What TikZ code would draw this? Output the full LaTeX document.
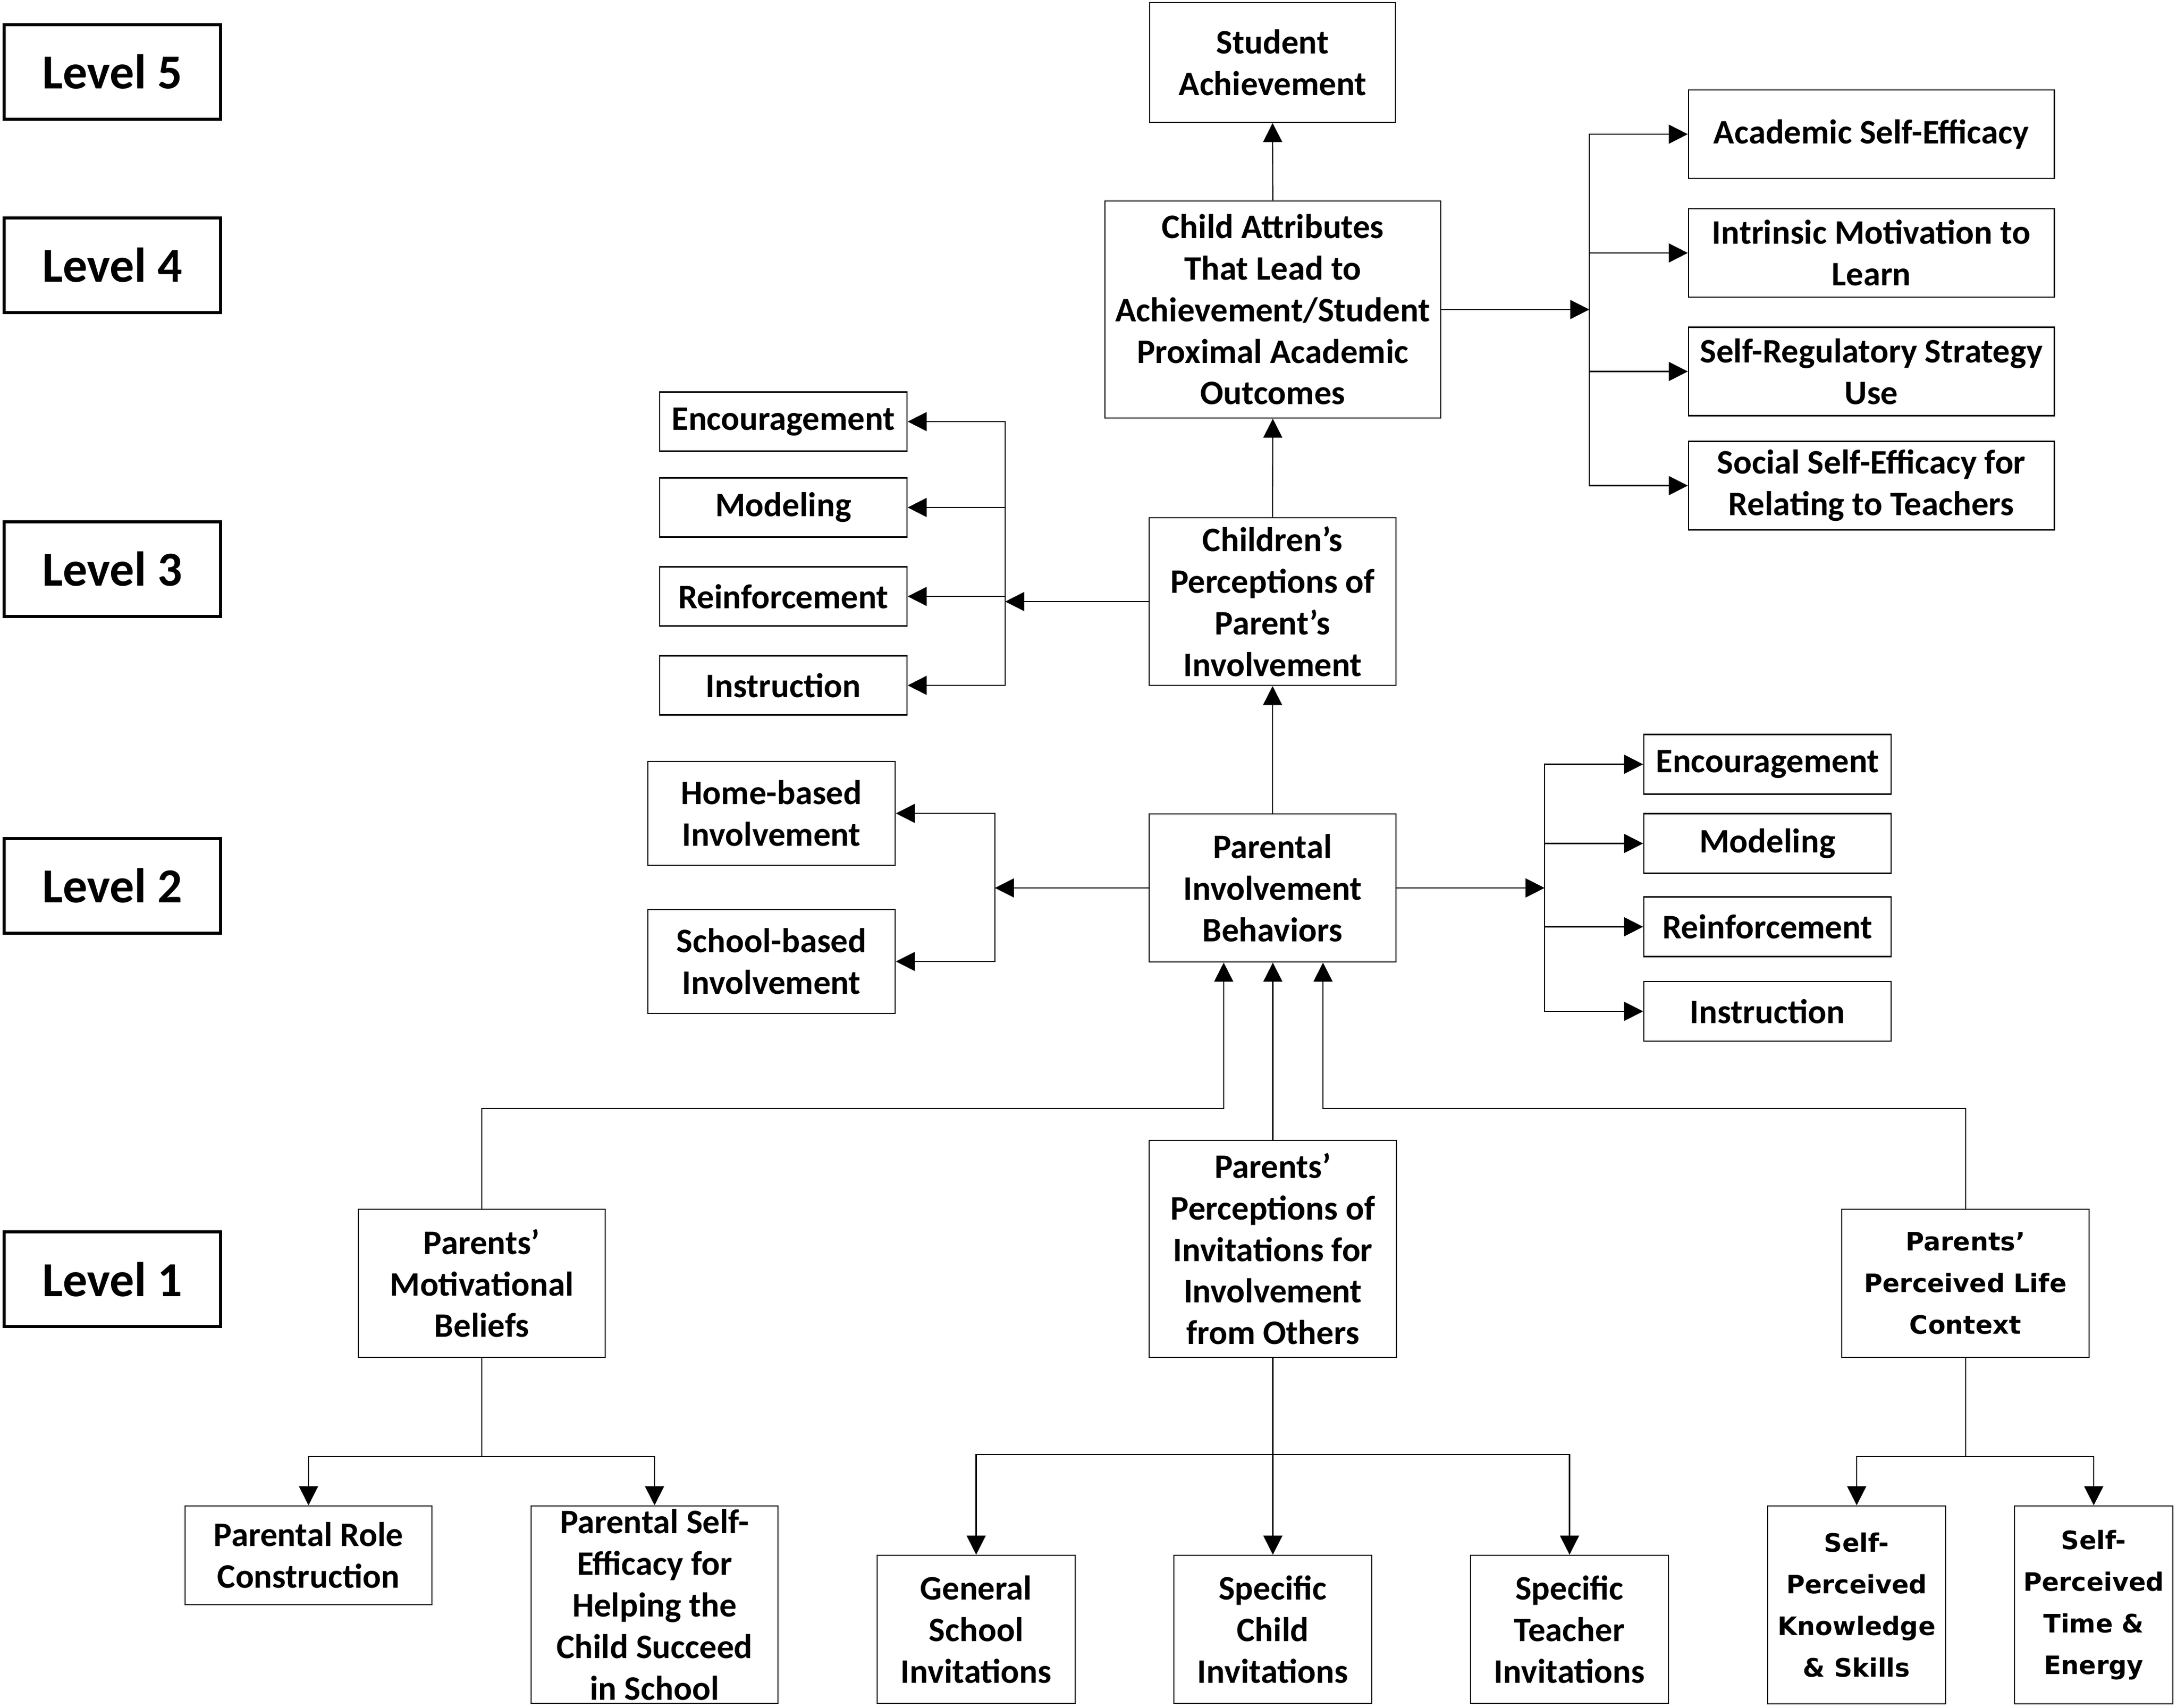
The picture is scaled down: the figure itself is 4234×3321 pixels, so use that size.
\documentclass[tikz,border=0pt]{standalone}
\usepackage{fontspec}
\setmainfont{Carlito}
\newfontfamily\widefont{DejaVu Sans}
\usetikzlibrary{arrows.meta}

\definecolor{linecolor}{RGB}{0,0,0}

\begin{document}
\begin{tikzpicture}[x=0.01cm, y=-0.01cm,
    box/.style={draw=linecolor, line width=0.7pt, align=center, inner sep=0pt,
      font=\bfseries\fontsize{19}{23}\selectfont},
    widebox/.style={box, font=\widefont\bfseries\fontsize{14}{23}\selectfont},
    levelbox/.style={draw=linecolor, line width=1.8pt, minimum width=4.21cm,
      minimum height=1.84cm, font=\bfseries\fontsize{27}{32}\selectfont},
    link/.style={draw=linecolor, line width=0.6pt},
    arr/.style={link, -{Triangle[length=0.37cm, width=0.37cm]}}]

      \useasboundingbox (0,0) rectangle (4234,3321);

      % Level labels on the left
      \node[levelbox] (lvfive)  at (218.5,140)  {Level 5};
      \node[levelbox] (lvfour)  at (218.5,516)  {Level 4};
      \node[levelbox] (lvthree) at (218.5,1107) {Level 3};
      \node[levelbox] (lvtwo)   at (218.5,1723) {Level 2};
      \node[levelbox] (lvone)   at (218.5,2488) {Level 1};

      % Levels 5 and 4
      \node[box, minimum width=4.78cm, minimum height=2.33cm] (sa) at (2475,121.5) {Student\\Achievement};
      \node[box, minimum width=6.53cm, minimum height=4.22cm] (ca) at (2475.5,602)
        {Child Attributes\\That Lead to\\Achievement/Student\\Proximal Academic\\Outcomes};
      \node[box, minimum width=7.11cm, minimum height=1.72cm] (ase)  at (3639.5,261)   {Academic Self-Efficacy};
      \node[box, minimum width=7.11cm, minimum height=1.72cm] (imot) at (3639.5,492)   {Intrinsic Motivation to\\Learn};
      \node[box, minimum width=7.11cm, minimum height=1.72cm] (srs)  at (3639.5,722.5) {Self-Regulatory Strategy\\Use};
      \node[box, minimum width=7.11cm, minimum height=1.72cm] (sse)  at (3639.5,944.5) {Social Self-Efficacy for\\Relating to Teachers};

      % Level 3
      \node[box, minimum width=4.80cm, minimum height=3.26cm] (cpp) at (2475,1170)
        {Children’s\\Perceptions of\\Parent’s\\Involvement};
      \node[box, minimum width=4.81cm, minimum height=1.15cm] (ce) at (1523.5,820)  {Encouragement};
      \node[box, minimum width=4.81cm, minimum height=1.15cm] (cm) at (1523.5,987)  {Modeling};
      \node[box, minimum width=4.81cm, minimum height=1.15cm] (cr) at (1523.5,1160) {Reinforcement};
      \node[box, minimum width=4.81cm, minimum height=1.15cm] (ci) at (1523.5,1333) {Instruction};

      % Level 2
      \node[box, minimum width=4.80cm, minimum height=2.88cm] (pib) at (2475,1727)
        {Parental\\Involvement\\Behaviors};
      \node[box, minimum width=4.81cm, minimum height=2.02cm] (hb) at (1500.5,1582) {Home-based\\Involvement};
      \node[box, minimum width=4.81cm, minimum height=2.02cm] (sb) at (1500.5,1870) {School-based\\Involvement};
      \node[box, minimum width=4.81cm, minimum height=1.16cm] (pe) at (3437.5,1486.5) {Encouragement};
      \node[box, minimum width=4.81cm, minimum height=1.16cm] (pm) at (3437.5,1640.5) {Modeling};
      \node[box, minimum width=4.81cm, minimum height=1.16cm] (pr) at (3437.5,1802.5) {Reinforcement};
      \node[box, minimum width=4.81cm, minimum height=1.16cm] (pi) at (3437.5,1967)   {Instruction};

      % Level 1
      \node[box, minimum width=4.80cm, minimum height=2.88cm] (pmb) at (937,2496)
        {Parents’\\Motivational\\Beliefs};
      \node[box, minimum width=4.81cm, minimum height=4.22cm] (ppi) at (2475.5,2429)
        {Parents’\\Perceptions of\\Invitations for\\Involvement\\from Others};
      \node[widebox, minimum width=4.81cm, minimum height=2.88cm] (plc) at (3822.5,2496)
        {Parents’\\Perceived Life\\Context};

      % Sources below level 1
      \node[box, minimum width=4.80cm, minimum height=1.92cm] (prc) at (600,3025)  {Parental Role\\Construction};
      \node[box, minimum width=4.80cm, minimum height=3.84cm] (pse) at (1273,3121)
        {Parental Self-\\Efficacy for\\Helping the\\Child Succeed\\in School};
      \node[box, minimum width=3.85cm, minimum height=2.88cm] (gsi) at (1898.5,3169) {General\\School\\Invitations};
      \node[box, minimum width=3.85cm, minimum height=2.88cm] (sci) at (2475.5,3169) {Specific\\Child\\Invitations};
      \node[box, minimum width=3.85cm, minimum height=2.88cm] (sti) at (3052.5,3169) {Specific\\Teacher\\Invitations};
      \node[widebox, minimum width=3.46cm, minimum height=3.85cm] (spk) at (3611,3121.5)
        {Self-\\Perceived\\Knowledge\\\& Skills};
      \node[widebox, minimum width=3.08cm, minimum height=3.85cm] (spt) at (4072,3121.5)
        {Self-\\Perceived\\Time \&\\Energy};

      % Bracket and junction points
      \coordinate (cabrk) at (3091,602);
      \coordinate (cpbrk) at (1955,1170);
      \coordinate (hsbrk) at (1935,1727);
      \coordinate (pbbrk) at (3004,1727);
      \coordinate (joinl) at (937,2156);
      \coordinate (joinr) at (3822.5,2156);
      \coordinate (pmbsplit) at (937,2833);
      \coordinate (ppisplit) at (2475.5,2829);
      \coordinate (plcsplit) at (3822.5,2833);

      % Main vertical chain
      \draw[arr] (ca.north) -- (sa.south);
      \draw[arr] (cpp.north) -- (ca.south);
      \draw[arr] (pib.north) -- (cpp.south);

      % Side brackets
      \draw[arr] (ca.east) -- (cabrk);
      \foreach \n in {ase,imot,srs,sse}
        \draw[arr] (cabrk) |- (\n.west);
      \draw[arr] (cpp.west) -- (cpbrk);
      \foreach \n in {ce,cm,cr,ci}
        \draw[arr] (cpbrk) |- (\n.east);
      \draw[arr] (pib.west) -- (hsbrk);
      \foreach \n in {hb,sb}
        \draw[arr] (hsbrk) |- (\n.east);
      \draw[arr] (pib.east) -- (pbbrk);
      \foreach \n in {pe,pm,pr,pi}
        \draw[arr] (pbbrk) |- (\n.west);

      % Level 1 into parental involvement
      \draw[arr] (pmb.north) -- (joinl) -| ([xshift=-0.95cm]pib.south);
      \draw[arr] (ppi.north) -- (ppi.north |- pib.south);
      \draw[arr] (plc.north) -- (joinr) -| ([xshift=0.98cm]pib.south);

      % Splits below level 1
      \draw[link] (pmb.south) -- (pmbsplit);
      \foreach \n in {prc,pse}
        \draw[arr] (pmbsplit) -| (\n.north);
      \draw[link] (ppi.south) -- (ppisplit);
      \foreach \n in {gsi,sci,sti}
        \draw[arr] (ppisplit) -| (\n.north);
      \draw[link] (plc.south) -- (plcsplit);
      \foreach \n in {spk,spt}
        \draw[arr] (plcsplit) -| (\n.north);
    \end{tikzpicture}
\end{document}
